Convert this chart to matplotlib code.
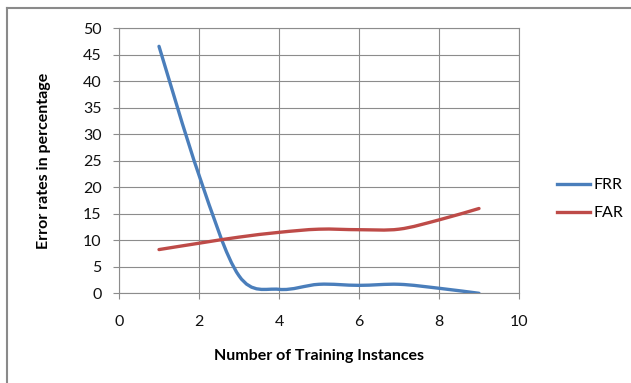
# -*- coding: utf-8 -*-
"""
FRR / FAR error rates against number of training instances
"""

import numpy as np
import matplotlib
matplotlib.use('Agg')
import matplotlib.pyplot as plt
from matplotlib.path import Path
from matplotlib.patches import PathPatch
from matplotlib.lines import Line2D

plt.rcParams['font.family'] = ['Lato', 'DejaVu Sans']

instances = [1, 2, 3, 4, 5, 6, 7, 8, 9]
frr = [46.6, 22.3, 3.3, 0.75, 1.7, 1.5, 1.7, 0.95, 0.0]
far = [8.25, 9.45, 10.6, 11.5, 12.1, 12.0, 12.1, 13.85, 16.0]

x_ticks = [0, 2, 4, 6, 8, 10]
y_ticks = [0, 5, 10, 15, 20, 25, 30, 35, 40, 45, 50]

FRR_COLOR = '#4a7ebb'
FAR_COLOR = '#be4b48'
GRID = '#8c8c8c'
FS = 11.5


def smooth_path(xs, ys):
    # cubic bezier through each point, spreadsheet-style smoothing
    pts = np.column_stack([xs, ys]).astype(float)
    n = len(pts)
    verts = [pts[0]]
    codes = [Path.MOVETO]
    for i in range(n - 1):
        p0 = pts[i - 1] if i > 0 else pts[i]
        p1 = pts[i]
        p2 = pts[i + 1]
        p3 = pts[i + 2] if i + 2 < n else pts[i + 1]
        c1 = p1 + (p2 - p0) / 6.0
        c2 = p2 - (p3 - p1) / 6.0
        verts += [c1, c2, p2]
        codes += [Path.CURVE4] * 3
    return Path(verts, codes)


fig = plt.figure(figsize=(6.31, 3.83), dpi=100)
ax = fig.add_axes([0.1886, 0.2342, 0.6339, 0.6919])

for ys, col in [(frr, FRR_COLOR), (far, FAR_COLOR)]:
    patch = PathPatch(smooth_path(instances, ys), facecolor='none',
                      edgecolor=col, lw=2.4, capstyle='round',
                      joinstyle='round', zorder=3)
    ax.add_patch(patch)

ax.set_xlim(0, 10)
ax.set_ylim(0, 50)
ax.set_xticks(x_ticks)
ax.set_yticks(y_ticks)
ax.grid(True, color=GRID, lw=0.8)
ax.set_axisbelow(True)
for s in ax.spines.values():
    s.set_color(GRID)
    s.set_linewidth(0.8)
ax.tick_params(axis='both', colors=GRID, length=4.5, width=0.8,
               labelcolor='#111111', labelsize=FS)
ax.tick_params(axis='y', pad=8)
ax.tick_params(axis='x', pad=11)

ax.set_xlabel('Number of Training Instances', fontsize=FS, fontweight='bold')
ax.set_ylabel('Error rates in percentage', fontsize=FS, fontweight='bold')
ax.xaxis.set_label_coords(0.5, -0.21)
ax.yaxis.set_label_coords(-0.17, 0.5)

handles = [Line2D([], [], color=FRR_COLOR, lw=2.4),
           Line2D([], [], color=FAR_COLOR, lw=2.4)]
fig.legend(handles, ['FRR', 'FAR'], loc='center left',
           bbox_to_anchor=(0.870, 0.48), frameon=False, fontsize=FS,
           handlelength=2.1, handletextpad=0.2, labelspacing=0.85,
           borderpad=0)

# outer chart border (left and top edges only)
fig.add_artist(Line2D([7 / 631, 7 / 631], [0, 1 - 8 / 383],
                      transform=fig.transFigure, color='#8a8a8a', lw=1.5))
fig.add_artist(Line2D([7 / 631, 1], [1 - 8 / 383, 1 - 8 / 383],
                      transform=fig.transFigure, color='#8a8a8a', lw=1.5))

fig.savefig('out.png', dpi=100)
